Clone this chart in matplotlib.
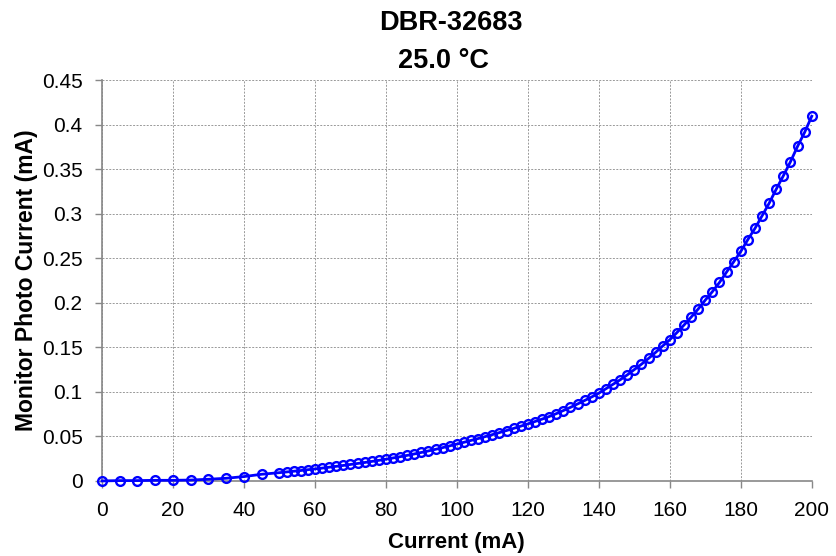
import matplotlib
matplotlib.use("Agg")
import matplotlib.pyplot as plt
import numpy as np

plt.rcParams['font.family'] = ['Liberation Sans', 'DejaVu Sans']

current_low = [0, 5, 10, 15, 20, 25, 30, 35, 40, 45]
photo_low = [0.0, 0.0004, 0.0004, 0.0007, 0.0007, 0.0010, 0.0019, 0.0030, 0.0049, 0.0075]

current_high = list(range(50, 201, 2))
photo_high = [
    0.0093, 0.0101, 0.0109, 0.0117, 0.0126, 0.0135, 0.0144, 0.0154, 0.0164, 0.0174,
    0.0185, 0.0196, 0.0207, 0.0219, 0.0231, 0.0244, 0.0258, 0.0272, 0.0287, 0.0303,
    0.0320, 0.0337, 0.0355, 0.0374, 0.0394, 0.0414, 0.0434, 0.0455, 0.0476, 0.0498,
    0.0520, 0.0543, 0.0566, 0.0590, 0.0615, 0.0640, 0.0667, 0.0694, 0.0723, 0.0755,
    0.0790, 0.0826, 0.0864, 0.0903, 0.0943, 0.0985, 0.1035, 0.1085, 0.1135, 0.1190,
    0.1250, 0.1310, 0.1375, 0.1443, 0.1515, 0.1585, 0.1665, 0.1750, 0.1838, 0.1930,
    0.2030, 0.2125, 0.2228, 0.2345, 0.2460, 0.2576, 0.2710, 0.2835, 0.2976, 0.3118,
    0.3276, 0.3426, 0.3583, 0.3756, 0.3914, 0.4094,
]

x = current_low + current_high
y = photo_low + photo_high

xticks = list(range(0, 201, 20))
yticks = [0, 0.05, 0.1, 0.15, 0.2, 0.25, 0.3, 0.35, 0.4, 0.45]
ytick_labels = ['0', '0.05', '0.1', '0.15', '0.2', '0.25', '0.3', '0.35', '0.4', '0.45']
title_lines = ['DBR-32683', '25.0 °C']

fig = plt.figure(figsize=(8.36, 5.56), dpi=100)
ax = fig.add_axes([0.122, 0.135, 0.849, 0.721])

ax.plot(x, y, color='#0000FF', linewidth=2, marker='o', markersize=6.3,
        markerfacecolor='none', markeredgecolor='#0000FF', markeredgewidth=1.7,
        clip_on=False, zorder=3)

ax.set_xlim(0, 200)
ax.set_ylim(0, 0.45)
ax.set_xticks(xticks)
ax.set_xticklabels([str(t) for t in xticks])
ax.set_yticks(yticks)
ax.set_yticklabels(ytick_labels)
ax.tick_params(axis='both', labelsize=15, colors='#888888', labelcolor='black',
               length=5, width=1, direction='out')
ax.tick_params(axis='y', pad=9)
ax.tick_params(axis='x', pad=9.5)

ax.grid(True, linestyle=(0, (2, 1.5)), color='#999999', linewidth=0.7)
ax.set_axisbelow(True)
for s in ['top', 'right']:
    ax.spines[s].set_visible(False)
for s in ['left', 'bottom']:
    ax.spines[s].set_color('#888888')
    ax.spines[s].set_linewidth(1.2)

ax.set_xlabel('Current (mA)', fontsize=16, fontweight='bold', labelpad=8.5)
ax.set_ylabel('Monitor Photo Current (mA)', fontsize=16.5, fontweight='bold', labelpad=3)

fig.text(0.539, 1 - 30 / 556, title_lines[0], fontsize=19.5, fontweight='bold',
         ha='center', va='baseline')
fig.text(0.5305, 1 - 68 / 556, title_lines[1], fontsize=19.5, fontweight='bold',
         ha='center', va='baseline')

fig.savefig('out.png', dpi=100)
